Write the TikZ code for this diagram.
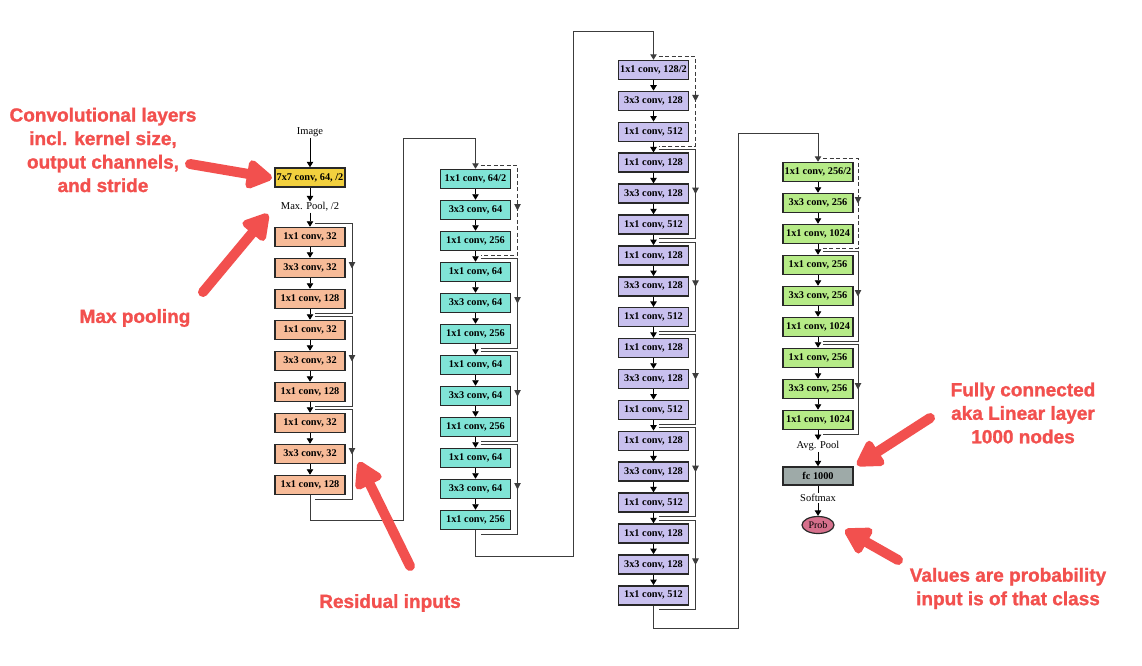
\documentclass[tikz,border=0pt]{standalone}
\usepackage{fontspec}
\setmainfont{Liberation Serif}
\newfontfamily\annfont{Liberation Sans}[BoldFeatures={FakeBold=1.3}]
\usetikzlibrary{arrows.meta,calc,decorations.markings,shapes.geometric}
\definecolor{yellowbox}{RGB}{242,208,62}
\definecolor{peach}{RGB}{247,187,152}
\definecolor{cyanbox}{RGB}{128,228,214}
\definecolor{lavbox}{RGB}{200,192,238}
\definecolor{greenbox}{RGB}{182,235,135}
\definecolor{fcgray}{RGB}{158,170,168}
\definecolor{probpink}{RGB}{214,112,140}
\definecolor{annred}{RGB}{242,80,78}
\definecolor{boxline}{RGB}{40,40,40}
\definecolor{linkline}{RGB}{60,60,60}
\tikzset{
  blk/.style={draw=boxline, line width=1.5pt, minimum width=70pt, minimum height=19pt, inner sep=0pt, font=\fontsize{10.3}{11}\selectfont\bfseries},
  lbl/.style={inner sep=1pt, font=\fontsize{10.5}{11}\selectfont},
  arr/.style={draw=black, line width=0.9pt, -{Triangle[width=6.5pt,length=5.5pt]}},
  link/.style={draw=linkline, line width=1pt, -{Triangle[width=6.5pt,length=5.5pt]}},
  res/.style={draw=linkline, line width=0.9pt, postaction={decorate},
    decoration={markings, mark=at position 0.5 with {\arrow{Triangle[width=6.5pt,length=6.5pt]}}}},
  resd/.style={res, dash pattern=on 4pt off 2.5pt},
  bigarrow/.style={draw=annred, line width=10pt, line cap=round, -{Triangle[round, width=32pt, length=29pt]}},
  ann/.style={text=annred, align=center, inner sep=0pt, font=\annfont\bfseries\fontsize{19}{23.5}\selectfont}
}
\begin{document}
\begin{tikzpicture}[x=1pt,y=-1pt]
\useasboundingbox (0,0) rectangle (1142,665);

% ---- column 1 ----
\node[lbl] (img) at (310,132) {Image};
\node[blk, fill=yellowbox] (y7) at (310,177.5) {7x7 conv, 64, /2};
\node[lbl] (mp) at (310,207) {Max. Pool, /2};
\foreach \t [count=\i] in {{1x1 conv, 32},{3x3 conv, 32},{1x1 conv, 128},{1x1 conv, 32},{3x3 conv, 32},{1x1 conv, 128},{1x1 conv, 32},{3x3 conv, 32},{1x1 conv, 128}}
  \node[blk, fill=peach] (a\i) at (310,{237+31*(\i-1)}) {\t};
\draw[arr] (img) -- (y7);
\draw[arr] (y7) -- (mp);
\draw[arr] (mp) -- (a1);
\foreach \i [evaluate=\i as \j using int(\i+1)] in {1,...,8}
  \draw[arr] (a\i) -- (a\j);
\foreach \s/\e in {1/3,4/6,7/9}
  \draw[res] ($(a\s.north)+(5,-3)$) -| ($(a\e.south)+(42,4)$) -- ($(a\e.south)+(5,4)$);

% ---- column 2 ----
\foreach \t [count=\i] in {{1x1 conv, 64/2},{3x3 conv, 64},{1x1 conv, 256},{1x1 conv, 64},{3x3 conv, 64},{1x1 conv, 256},{1x1 conv, 64},{3x3 conv, 64},{1x1 conv, 256},{1x1 conv, 64},{3x3 conv, 64},{1x1 conv, 256}}
  \node[blk, fill=cyanbox] (b\i) at (475.5,{179+31*(\i-1)}) {\t};
\foreach \i [evaluate=\i as \j using int(\i+1)] in {1,...,11}
  \draw[arr] (b\i) -- (b\j);
\draw[resd] ($(b1.north)+(5,-3)$) -| ($(b3.south)+(42,4)$) -- ($(b3.south)+(5,4)$);
\foreach \s/\e in {4/6,7/9,10/12}
  \draw[res] ($(b\s.north)+(5,-3)$) -| ($(b\e.south)+(42,4)$) -- ($(b\e.south)+(5,4)$);

% ---- column 3 ----
\foreach \t [count=\i] in {{1x1 conv, 128/2},{3x3 conv, 128},{1x1 conv, 512},{1x1 conv, 128},{3x3 conv, 128},{1x1 conv, 512},{1x1 conv, 128},{3x3 conv, 128},{1x1 conv, 512},{1x1 conv, 128},{3x3 conv, 128},{1x1 conv, 512},{1x1 conv, 128},{3x3 conv, 128},{1x1 conv, 512},{1x1 conv, 128},{3x3 conv, 128},{1x1 conv, 512}}
  \node[blk, fill=lavbox] (c\i) at (653.5,{70+30.9*(\i-1)}) {\t};
\foreach \i [evaluate=\i as \j using int(\i+1)] in {1,...,17}
  \draw[arr] (c\i) -- (c\j);
\draw[resd] ($(c1.north)+(5,-3)$) -| ($(c3.south)+(42,4)$) -- ($(c3.south)+(5,4)$);
\foreach \s/\e in {4/6,7/9,10/12,13/15,16/18}
  \draw[res] ($(c\s.north)+(5,-3)$) -| ($(c\e.south)+(42,4)$) -- ($(c\e.south)+(5,4)$);

% ---- column 4 ----
\foreach \t [count=\i] in {{1x1 conv, 256/2},{3x3 conv, 256},{1x1 conv, 1024},{1x1 conv, 256},{3x3 conv, 256},{1x1 conv, 1024},{1x1 conv, 256},{3x3 conv, 256},{1x1 conv, 1024}}
  \node[blk, fill=greenbox] (d\i) at (818,{172+31*(\i-1)}) {\t};
\foreach \i [evaluate=\i as \j using int(\i+1)] in {1,...,8}
  \draw[arr] (d\i) -- (d\j);
\draw[resd] ($(d1.north)+(5,-3)$) -| ($(d3.south)+(40,4)$) -- ($(d3.south)+(5,4)$);
\foreach \s/\e in {4/6,7/9}
  \draw[res] ($(d\s.north)+(5,-3)$) -| ($(d\e.south)+(40,4)$) -- ($(d\e.south)+(5,4)$);
\node[lbl] (avg) at (818,446) {Avg. Pool};
\node[blk, fill=fcgray, minimum height=18pt] (fc) at (818,476) {fc 1000};
\node[lbl] (sm) at (818,498) {Softmax};
\node[ellipse, draw=boxline, line width=1.2pt, fill=probpink, minimum width=32pt, minimum height=17pt, inner sep=0pt, font=\fontsize{10}{11}\selectfont] (prob) at (818,525) {Prob};
\draw[arr] (d9) -- (avg);
\draw[arr] (avg) -- (fc);
\draw[draw=black, line width=0.9pt] (fc) -- (sm);
\draw[arr] (sm) -- (prob);

% ---- links between columns ----
\coordinate (p1) at (403,520);
\coordinate (q1) at (403,138);
\coordinate (p2) at (573,556);
\coordinate (q2) at (573,31);
\coordinate (p3) at (738,628);
\coordinate (q3) at (738,133);
\draw[link] (a9.south) |- (p1) -- (q1) -| (b1.north);
\draw[link] (b12.south) |- (p2) -- (q2) -| (c1.north);
\draw[link] (c18.south) |- (p3) -- (q3) -| (d1.north);

% ---- annotations ----
\node[ann] (t1) at (103,150) {Convolutional layers\\incl. kernel size,\\output channels,\\and stride};
\node[ann] (t2) at (135,318) {Max pooling};
\node[ann] (t3) at (390,603) {Residual inputs};
\node[ann] (t4) at (1023,413) {Fully connected\\aka Linear layer\\1000 nodes};
\node[ann] (t5) at (1008,588.5) {Values are probability\\input is of that class};
\coordinate (s1) at (190,164); \coordinate (e1) at (272,178);
\coordinate (s2) at (203,292); \coordinate (e2) at (268,214);
\coordinate (s3) at (410,566); \coordinate (e3) at (359,462);
\coordinate (s4) at (930,418); \coordinate (e4) at (857,465);
\coordinate (s5) at (898,560); \coordinate (e5) at (845,530);
\draw[bigarrow] (s1) -- (e1);
\draw[bigarrow] (s2) -- (e2);
\draw[bigarrow] (s3) -- (e3);
\draw[bigarrow] (s4) -- (e4);
\draw[bigarrow] (s5) -- (e5);
\end{tikzpicture}
\end{document}
